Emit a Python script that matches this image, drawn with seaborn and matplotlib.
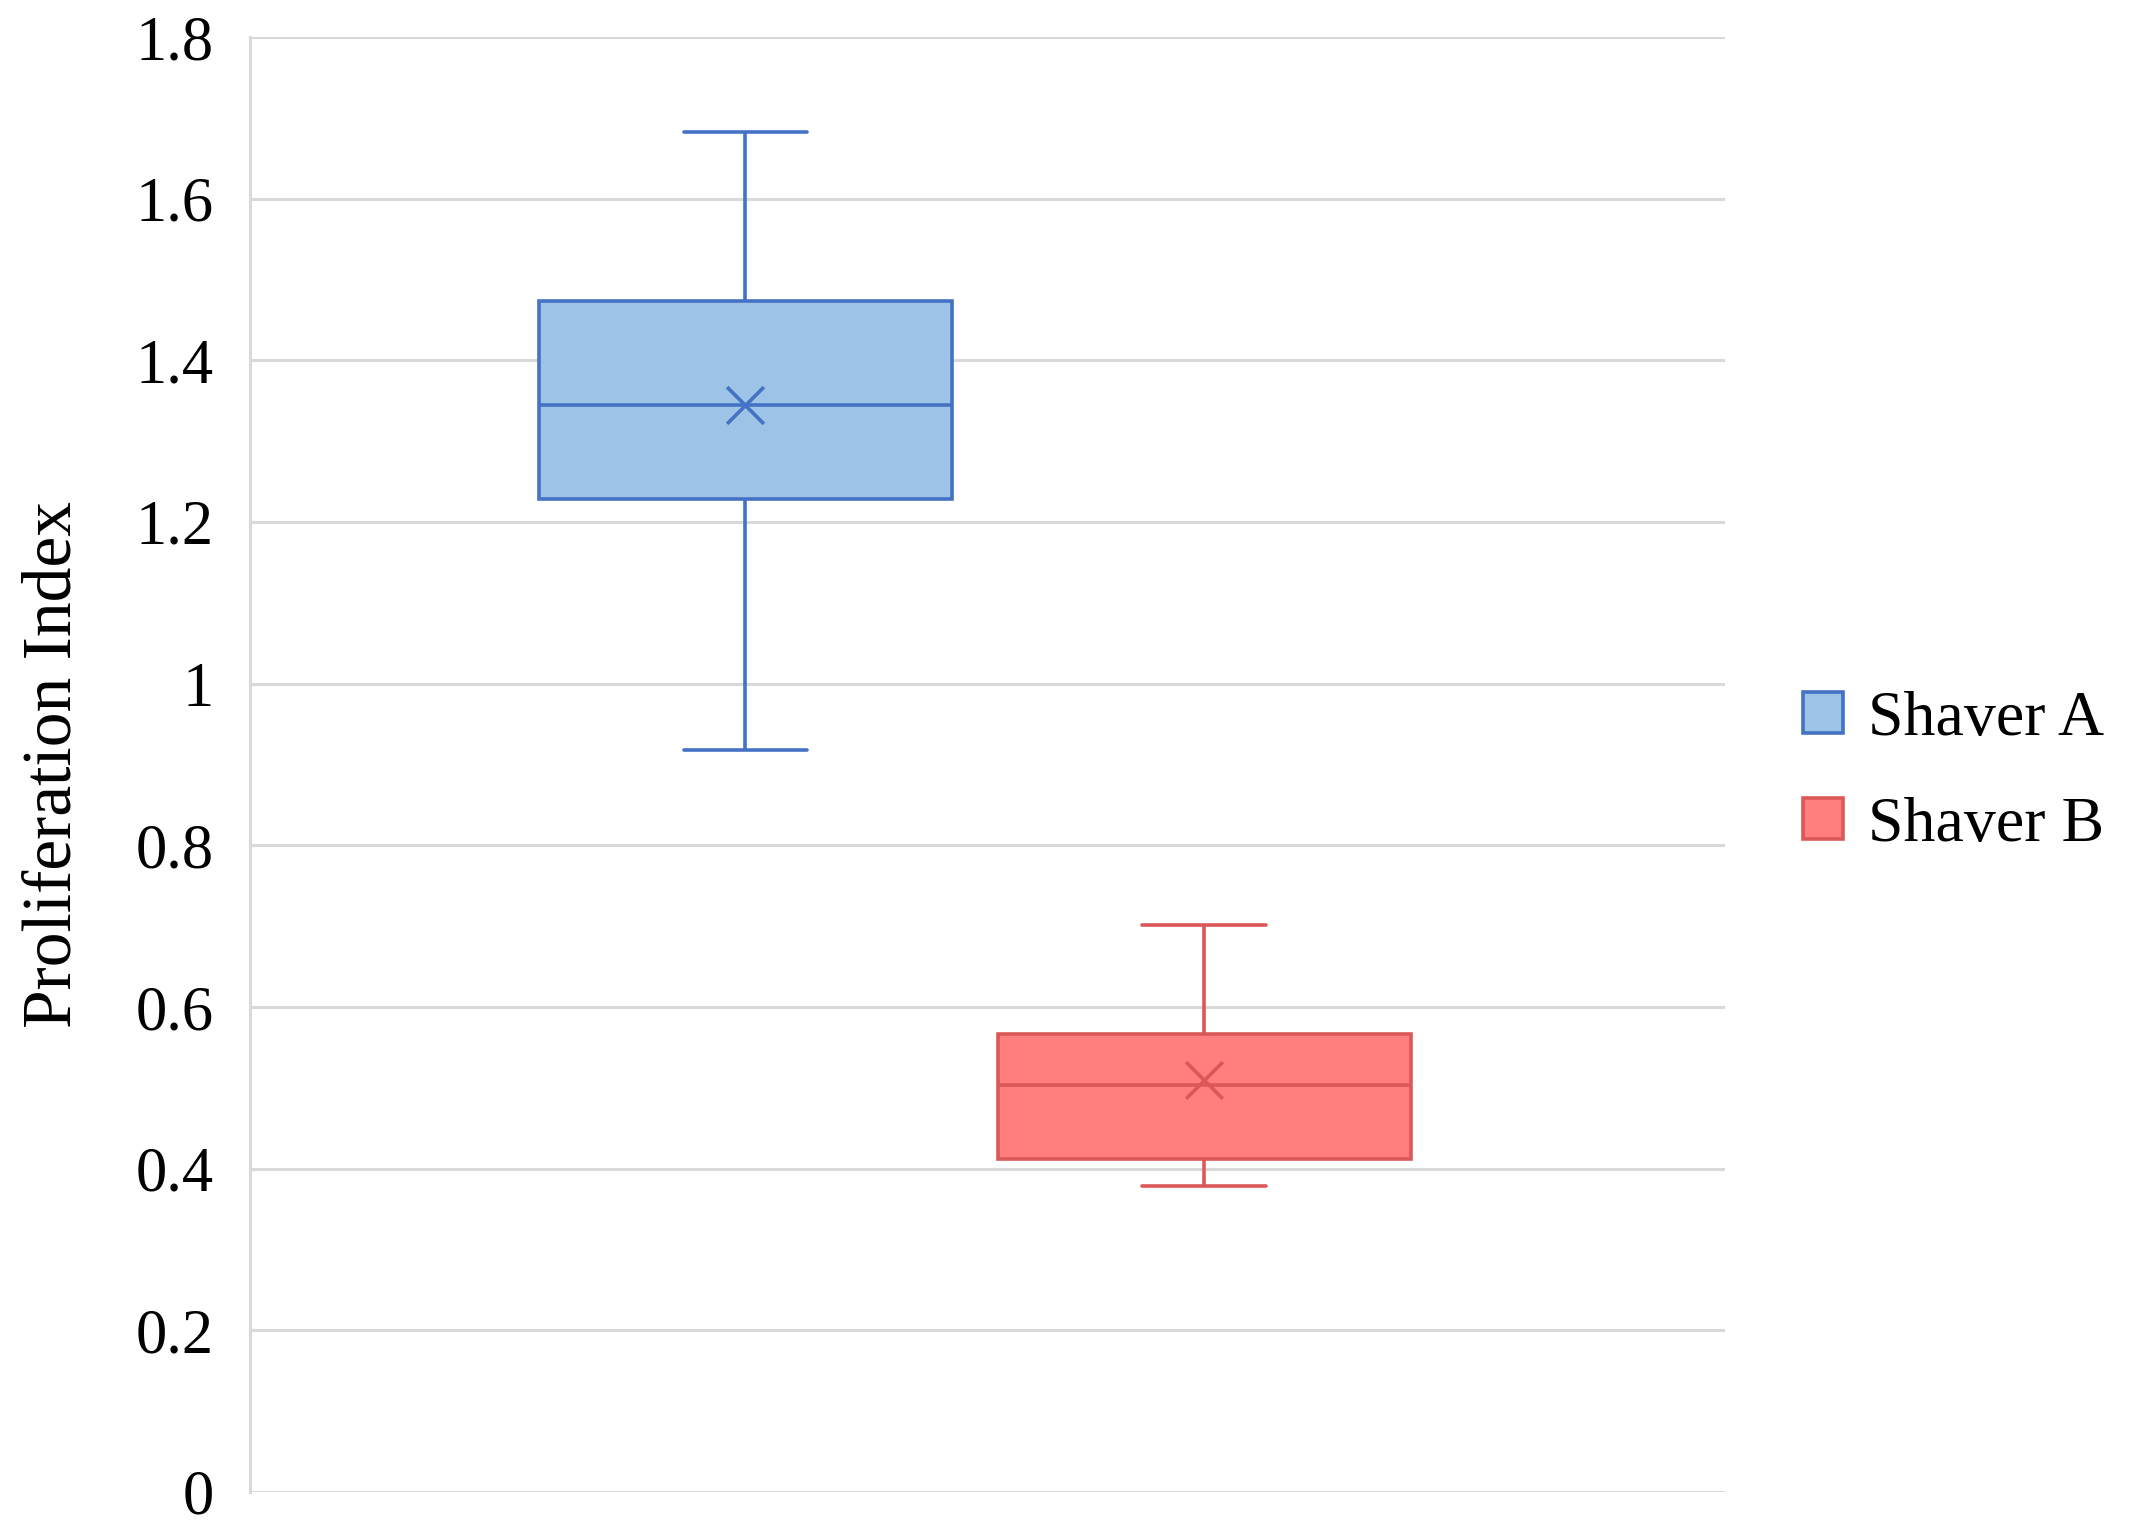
import numpy as np
import pandas as pd
import matplotlib
matplotlib.use("Agg")
import matplotlib.pyplot as plt
from matplotlib.patches import Patch
import seaborn as sns

# five-number summaries: min, Q1, median, Q3, max
groups = ['Shaver A', 'Shaver B']
shaver_a = [0.918, 1.229, 1.345, 1.474, 1.683]
shaver_b = [0.379, 0.412, 0.504, 0.566, 0.701]
means = [1.345, 0.510]
yticks = [0, 0.2, 0.4, 0.6, 0.8, 1, 1.2, 1.4, 1.6, 1.8]
ytick_labels = ['0', '0.2', '0.4', '0.6', '0.8', '1', '1.2', '1.4', '1.6', '1.8']

fills = ['#9DC3E6', '#FF7F7F']
edges = ['#4472C4', '#DC5858']

sns.set_style("white")
plt.rcParams['font.family'] = ['Liberation Serif', 'DejaVu Serif']
plt.rcParams['text.color'] = 'black'
plt.rcParams['axes.labelcolor'] = 'black'
plt.rcParams['ytick.color'] = 'black'

fig = plt.figure(figsize=(21.42, 15.35), dpi=100)
ax = fig.add_axes([250 / 2142, 1 - 1492 / 1535, 1475 / 2142, 1455 / 1535])

for y in yticks:
    ax.axhline(y, color='#D9D9D9', linewidth=2.2, zorder=0)

for i, (name, vals) in enumerate(zip(groups, [shaver_a, shaver_b])):
    df = pd.DataFrame({'group': [name] * len(vals), 'value': vals})
    sns.boxplot(data=df, x='group', y='value', order=groups, ax=ax,
                color=fills[i], linecolor=edges[i], saturation=1,
                width=0.9, whis=np.inf, linewidth=2.6, capwidths=0.27,
                showfliers=False)

# mean markers
for i, name in enumerate(groups):
    ax.scatter([i], [means[i]], marker='x', s=700, color=edges[i],
               linewidths=2.6, zorder=5)

ax.set_xlim(-1.08, 2.135)
ax.set_ylim(0, 1.8)
ax.set_xticks([])
ax.set_xlabel('')
ax.set_yticks(yticks)
ax.set_yticklabels(ytick_labels, fontsize=45)
ax.tick_params(axis='y', length=0, pad=26, labelcolor='black')
ax.set_ylabel('Proliferation Index', fontsize=50, labelpad=36, color='black')

for s in ['top', 'right', 'bottom']:
    ax.spines[s].set_visible(False)
ax.spines['left'].set_color('#D9D9D9')
ax.spines['left'].set_linewidth(2.2)

handles = [Patch(facecolor=fills[i], edgecolor=edges[i], linewidth=2.6, label=groups[i])
           for i in range(2)]
fig.legend(handles=handles, loc='center left',
           bbox_to_anchor=(1803 / 2142, 1 - 773 / 1535),
           frameon=False, fontsize=46, handlelength=0.62, handleheight=0.62,
           handletextpad=0.4, labelspacing=0.75, borderpad=0, borderaxespad=0,
           labelcolor='black')

fig.savefig('out.png', dpi=100)
